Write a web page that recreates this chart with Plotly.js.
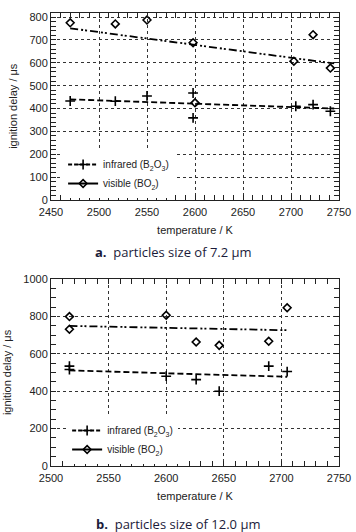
<!DOCTYPE html>
<html>
<head>
<meta charset="utf-8">
<script src="https://cdn.plot.ly/plotly-3.0.1.min.js"></script>
<style>html,body{margin:0;padding:0;background:#fff;}#chart{width:356px;height:532px;}</style>
</head>
<body>
<div id="chart"></div>
<script>
// Panel a: particles 7.2 um
const aVisT = [2470, 2517, 2550, 2598, 2600, 2703, 2723, 2741];
const aVisD = [775, 770, 787, 688, 425, 607, 723, 577];
const aIrT = [2470, 2517, 2550, 2598, 2598, 2705, 2723, 2741];
const aIrD = [433, 432, 455, 468, 359, 410, 417, 388];
const aVisFitT = [2470, 2745];
const aVisFitD = [751, 597];
const aIrFitT = [2470, 2745];
const aIrFitD = [440, 400];

// Panel b: particles 12.0 um
const bVisT = [2516, 2516, 2600, 2626, 2646, 2689, 2705];
const bVisD = [799, 731, 806, 663, 645, 667, 846];
const bIrT = [2516, 2516, 2600, 2626, 2646, 2689, 2705];
const bIrD = [534, 516, 480, 462, 400, 534, 505];
const bVisFitT = [2516, 2705];
const bVisFitD = [749, 726];
const bIrFitT = [2516, 2705];
const bIrFitD = [511, 477];

const legendNames = ['infrared (B<sub>2</sub>O<sub>3</sub>)', 'visible (BO<sub>2</sub>)'];
const captions = ['<b>a.</b>  particles size of 7.2 μm', '<b>b.</b>  particles size of 12.0 μm'];

const visDash = '8px,3px,2px,2px,2px,3px';
const irDash = '6px,3px';
const diamond = {symbol: 'diamond-open', size: 6, color: '#000', line: {width: 1.6, color: '#000'}};
const cross = {symbol: 'cross-thin-open', size: 7, color: '#000', line: {width: 1.6, color: '#000'}};

function panel(xa, ya, xt, yr, lg, visT, visD, irT, irD, vfT, vfD, ifT, ifD) {
  return [
    {x: vfT, y: vfD, xaxis: xa, yaxis: ya, mode: 'lines', line: {color: '#000', width: 1.8, dash: visDash}, showlegend: false, hoverinfo: 'skip'},
    {x: ifT, y: ifD, xaxis: xa, yaxis: ya, mode: 'lines', line: {color: '#000', width: 1.8, dash: irDash}, showlegend: false, hoverinfo: 'skip'},
    {x: visT, y: visD, xaxis: xa, yaxis: ya, mode: 'markers', marker: diamond, showlegend: false},
    {x: irT, y: irD, xaxis: xa, yaxis: ya, mode: 'markers', marker: cross, showlegend: false},
    {x: [null], y: [null], xaxis: xa, yaxis: ya, mode: 'lines+markers', name: legendNames[0], legend: lg, marker: cross, line: {color: '#000', width: 2, dash: '4px,2px'}},
    {x: [null], y: [null], xaxis: xa, yaxis: ya, mode: 'lines+markers', name: legendNames[1], legend: lg, marker: diamond, line: {color: '#000', width: 2}},
    // helpers so the mirrored minor-tick axes are drawn
    {x: [null], y: [null], xaxis: xt, yaxis: ya, mode: 'markers', showlegend: false, hoverinfo: 'skip'},
    {x: [null], y: [null], xaxis: xa, yaxis: yr, mode: 'markers', showlegend: false, hoverinfo: 'skip'}
  ];
}

const data = [].concat(
  panel('x', 'y', 'x3', 'y3', 'legend', aVisT, aVisD, aIrT, aIrD, aVisFitT, aVisFitD, aIrFitT, aIrFitD),
  panel('x2', 'y2', 'x4', 'y4', 'legend2', bVisT, bVisD, bIrT, bIrD, bVisFitT, bVisFitD, bIrFitT, bIrFitD)
);

const tickFont = {family: 'Liberation Sans, Arial, sans-serif', size: 11, color: '#222'};
function axisBase(extra) {
  return Object.assign({
    showline: true, linecolor: '#222', linewidth: 1, mirror: 'allticks',
    ticks: 'inside', ticklen: 5, tickcolor: '#222', tickwidth: 1,
    showgrid: true, gridcolor: '#333', griddash: 'dot', gridwidth: 1,
    zeroline: false, tickfont: tickFont
  }, extra);
}
function mirrorAxis(extra) {
  return Object.assign({
    showline: false, showgrid: false, zeroline: false, showticklabels: false,
    ticks: 'inside', ticklen: 5, tickcolor: '#222', tickwidth: 1
  }, extra);
}
const titleFont = {family: 'Liberation Sans, Arial, sans-serif', size: 11, color: '#222'};
const minorX = {dtick: 10, ticklen: 3, ticks: 'inside', showgrid: false, tickcolor: '#222'};

const layout = {
  width: 356, height: 532,
  margin: {l: 51, r: 17, t: 0, b: 0},
  paper_bgcolor: '#fff', plot_bgcolor: '#fff',
  showlegend: true,
  xaxis: axisBase({domain: [0, 1], anchor: 'y', range: [2450, 2750], dtick: 50, tick0: 2450, minor: minorX,
    ticklabelstandoff: 2,
    title: {text: 'temperature / K', font: titleFont, standoff: 9}}),
  yaxis: axisBase({domain: [0.6241, 0.9765], anchor: 'x', range: [0, 820], dtick: 100, tick0: 0,
    minor: {dtick: 20, ticklen: 3, ticks: 'inside', showgrid: false, tickcolor: '#222'},
    title: {text: 'ignition delay / μs', font: titleFont, standoff: 9}}),
  xaxis3: mirrorAxis({overlaying: 'x', side: 'top', anchor: 'y', range: [2450, 2750], dtick: 50, tick0: 2450, minor: minorX}),
  yaxis3: mirrorAxis({overlaying: 'y', side: 'right', anchor: 'x', range: [0, 820], dtick: 100, tick0: 0,
    minor: {dtick: 20, ticklen: 3, ticks: 'inside', showgrid: false, tickcolor: '#222'}}),
  xaxis2: axisBase({domain: [0, 1], anchor: 'y2', range: [2500, 2750], dtick: 50, tick0: 2500, minor: minorX,
    ticklabelstandoff: 2,
    title: {text: 'temperature / K', font: titleFont, standoff: 9}}),
  yaxis2: axisBase({domain: [0.1241, 0.4756], anchor: 'x2', range: [0, 1000], dtick: 200, tick0: 0,
    minor: {dtick: 50, ticklen: 3, ticks: 'inside', showgrid: false, tickcolor: '#222'},
    title: {text: 'ignition delay / μs', font: titleFont, standoff: 9}}),
  xaxis4: mirrorAxis({overlaying: 'x2', side: 'top', anchor: 'y2', range: [2500, 2750], dtick: 50, tick0: 2500, minor: minorX}),
  yaxis4: mirrorAxis({overlaying: 'y2', side: 'right', anchor: 'x2', range: [0, 1000], dtick: 200, tick0: 0,
    minor: {dtick: 50, ticklen: 3, ticks: 'inside', showgrid: false, tickcolor: '#222'}}),
  legend: {x: 0.042, y: 0.718, xanchor: 'left', yanchor: 'top', bgcolor: '#fff', borderwidth: 0,
    font: {family: 'Liberation Sans, Arial, sans-serif', size: 10, color: '#222'},
    tracegroupgap: 0, itemwidth: 30},
  legend2: {x: 0.056, y: 0.218, xanchor: 'left', yanchor: 'top', bgcolor: '#fff', borderwidth: 0,
    font: {family: 'Liberation Sans, Arial, sans-serif', size: 10, color: '#222'},
    tracegroupgap: 0, itemwidth: 30},
  annotations: [
    {text: captions[0], xref: 'paper', yref: 'paper', x: 0.427, y: 1 - 252 / 532, xanchor: 'center', yanchor: 'middle', showarrow: false, borderpad: 0,
      font: {family: 'Open Sans, Lato, sans-serif', size: 13, color: '#1b1b3a'}},
    {text: captions[1], xref: 'paper', yref: 'paper', x: 0.441, y: 1 - 524 / 532, xanchor: 'center', yanchor: 'middle', showarrow: false, borderpad: 0,
      font: {family: 'Open Sans, Lato, sans-serif', size: 13, color: '#1b1b3a'}}
  ]
};

Plotly.newPlot('chart', data, layout, {staticPlot: true, displayModeBar: false});
</script>
</body>
</html>
